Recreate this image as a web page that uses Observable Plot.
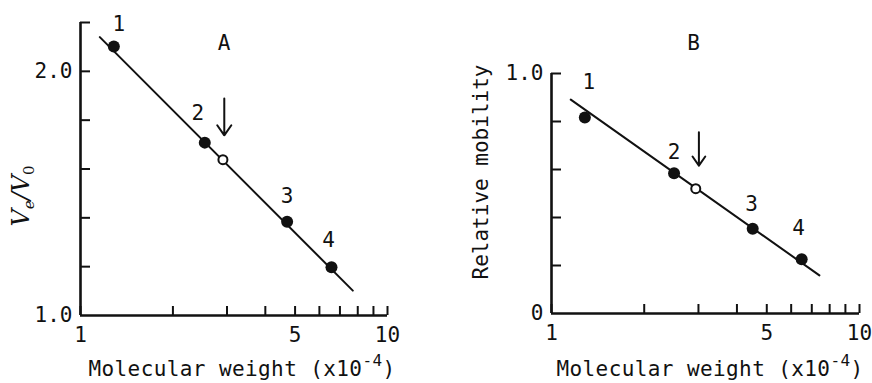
<!DOCTYPE html>
<html><head><meta charset="utf-8">
<script src="https://cdn.jsdelivr.net/npm/d3@7"></script>
<script src="https://cdn.jsdelivr.net/npm/@observablehq/plot@0.6"></script>
<style>
body{margin:0;background:#fff;}
#wrap{position:relative;width:872px;height:383px;overflow:hidden;}
.panel{position:absolute;top:0;}
#pa{left:0}#pb{left:436px}
</style></head><body><div id="wrap"><div id="pa" class="panel"></div><div id="pb" class="panel"></div></div>
<script>
// ---- data ----
const xTicks = [1, 2, 3, 4, 5, 6, 7, 8, 9, 10];
const xTickLabels = [1, 5, 10];
const standardLabels = ["1", "2", "3", "4"];

// Panel A: gel filtration
const mwA = [1.284, 2.54, 4.71, 6.57];
const veA = [2.102, 1.708, 1.384, 1.198];
const unknownMwA = [2.91];
const unknownVeA = [1.638];
const fitMwA = [1.156, 7.71];
const fitVeA = [2.14, 1.102];
const arrowMwA = [2.94];
const arrowFromA = [1.889];
const arrowToA = [1.738];
const yTicksA = [1.2, 1.4, 1.6, 1.8, 2.0, 2.2];
const yTickLabelsA = [1.0, 2.0];

// Panel B: electrophoresis
const mwB = [1.283, 2.50, 4.50, 6.49];
const mobB = [0.817, 0.584, 0.353, 0.226];
const unknownMwB = [2.94];
const unknownMobB = [0.52];
const fitMwB = [1.155, 7.41];
const fitMobB = [0.891, 0.159];
const arrowMwB = [3.01];
const arrowFromB = [0.755];
const arrowToB = [0.616];
const yTicksB = [0.2, 0.4, 0.6, 0.8, 1.0];
const yTickLabelsB = [0, 1.0];

// ---- style ----
const FONT = "'DejaVu Sans Mono', 'Liberation Mono', monospace";
const INK = "#111";

function panel(o) {
  const pts = o.mw.map((x, i) => ({x, y: o.val[i], label: standardLabels[i], i}));
  const unk = o.umw.map((x, i) => ({x, y: o.uval[i]}));
  const fit = o.fmw.map((x, i) => ({x, y: o.fval[i]}));
  const arr = o.amw.map((x, i) => ({x, y1: o.ay1[i], y2: o.ay2[i]}));
  return Plot.plot({
    width: 436, height: 383,
    marginLeft: o.ml, marginRight: o.mr, marginTop: o.mt, marginBottom: o.mb,
    style: {fontFamily: FONT, fontSize: "21px", color: INK, background: "transparent", overflow: "visible"},
    x: {type: "log", domain: [1, 10]},
    y: {domain: o.yDomain},
    marks: [
      Plot.axisX({ticks: xTicks, tickSize: -9, tickFormat: () => "", label: null, strokeWidth: 2}),
      Plot.axisX({ticks: xTickLabels, tickSize: 0, tickPadding: 12, tickFormat: d => String(d), label: null, fontSize: 21}),
      Plot.axisY({ticks: o.yTicks, tickSize: -10, tickFormat: () => "", label: null, strokeWidth: 2}),
      Plot.axisY({ticks: o.yLabels, tickSize: 0, tickPadding: 8, tickFormat: o.yFmt, label: null, fontSize: 21}),
      Plot.ruleY([o.yDomain[0]], {stroke: INK, strokeWidth: 2.6}),
      Plot.ruleX([1], {stroke: INK, strokeWidth: 2.6}),
      Plot.line(fit, {x: "x", y: "y", stroke: INK, strokeWidth: 2}),
      Plot.dot(pts, {x: "x", y: "y", r: 6, fill: INK, stroke: "none"}),
      Plot.dot(unk, {x: "x", y: "y", r: 4.5, fill: "white", stroke: INK, strokeWidth: 2}),
      Plot.arrow(arr, {x1: "x", x2: "x", y1: "y1", y2: "y2", stroke: INK, strokeWidth: 2, headLength: 12, headAngle: 70}),
      ...pts.map((p, i) => Plot.text([p], {x: "x", y: "y", text: "label", dx: o.offs[i][0], dy: o.offs[i][1], fontSize: 21, fill: INK})),
      Plot.text([o.letter], {frameAnchor: "top", dx: o.letterDx, dy: o.letterDy, fontSize: 21, fill: INK})
    ]
  });
}

function addXTitle(svg, cx) {
  const t = d3.select(svg).append("text")
    .attr("x", cx).attr("y", 376).attr("text-anchor", "middle")
    .attr("font-family", FONT).attr("font-size", 21).attr("letter-spacing", 0.4).attr("fill", INK);
  t.append("tspan").text("Molecular weight (x10");
  t.append("tspan").attr("dy", -10).attr("font-size", 16).text("-4");
  t.append("tspan").attr("dy", 10).text(")");
}

const a = panel({
  ml: 80, mr: 49, mt: 22, mb: 68, yDomain: [1, 2.2], yTicks: yTicksA, yLabels: yTickLabelsA,
  yFmt: d => d.toFixed(1), mw: mwA, val: veA, umw: unknownMwA, uval: unknownVeA,
  fmw: fitMwA, fval: fitVeA, amw: arrowMwA, ay1: arrowFromA, ay2: arrowToA,
  offs: [[5, -22], [-7, -29], [0, -25], [-3, -27]], letter: "A", letterDx: -10, letterDy: 13
});
document.getElementById("pa").appendChild(a);
addXTitle(a, 242);
{
  const t = d3.select(a).append("text")
    .attr("transform", "translate(29,196) rotate(-90)")
    .attr("text-anchor", "middle")
    .attr("font-family", "'DejaVu Serif', 'Liberation Serif', serif").attr("font-style", "italic")
    .attr("font-size", 24).attr("fill", INK);
  t.append("tspan").text("V");
  t.append("tspan").attr("dy", 5).attr("font-size", 15).text("e");
  t.append("tspan").attr("dy", -5).text("/V");
  t.append("tspan").attr("dy", 5).attr("font-size", 15).attr("font-style", "normal").text("0");
}

const b = panel({
  ml: 115, mr: 13, mt: 73, mb: 70, yDomain: [0, 1], yTicks: yTicksB, yLabels: yTickLabelsB,
  yFmt: d => d === 0 ? "0" : d.toFixed(1), mw: mwB, val: mobB, umw: unknownMwB, uval: unknownMobB,
  fmw: fitMwB, fval: fitMobB, amw: arrowMwB, ay1: arrowFromB, ay2: arrowToB,
  offs: [[4, -35], [0, -21], [-1, -25], [-3, -31]], letter: "B", letterDx: -12, letterDy: -38
});
document.getElementById("pb").appendChild(b);
addXTitle(b, 274);
d3.select(b).append("text")
  .attr("transform", "translate(46,172) rotate(-90)")
  .attr("text-anchor", "middle").attr("dominant-baseline", "middle")
  .attr("font-family", FONT).attr("font-size", 21).attr("fill", INK)
  .text("Relative mobility");
</script></body></html>
